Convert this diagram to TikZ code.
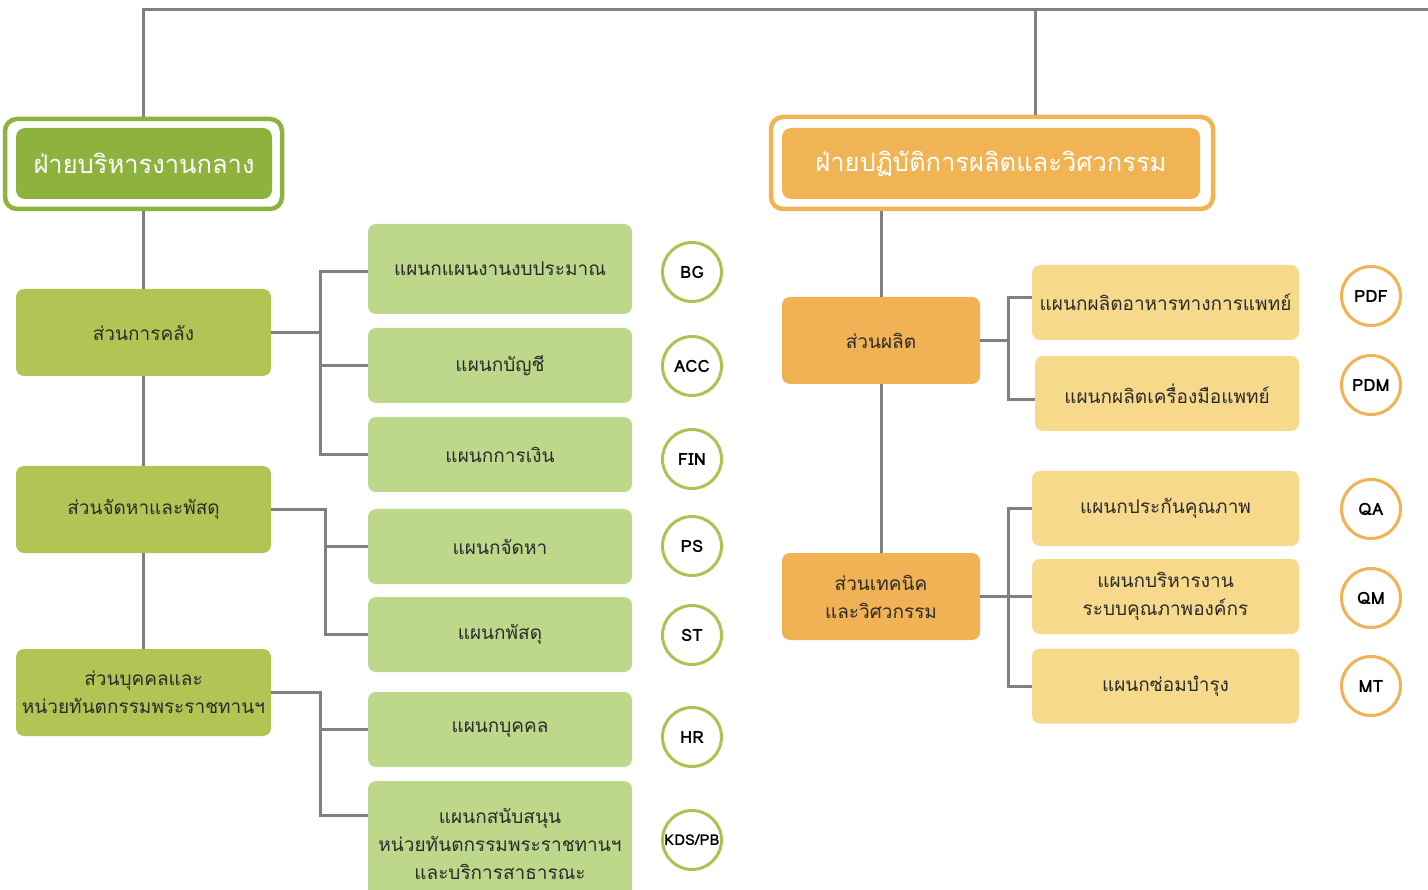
\documentclass[tikz,border=0pt]{standalone}
\usepackage{fontspec}
\newfontfamily\thaifont[Script=Thai]{Loma}
\definecolor{headG}{HTML}{8DB23E}
\definecolor{sectG}{HTML}{B1C554}
\definecolor{deptG}{HTML}{BDD78B}
\definecolor{ringG}{HTML}{A9C451}
\definecolor{headO}{HTML}{F0B455}
\definecolor{sectO}{HTML}{F0B254}
\definecolor{deptO}{HTML}{F7D98C}
\definecolor{lineC}{HTML}{808080}
\definecolor{txtC}{HTML}{2B2B2B}
\tikzset{
  link/.style={draw=lineC, line width=3pt},
  headframe/.style={draw=#1, line width=4.5pt, fill=white, rounded corners=12pt},
  headbox/.style={fill=#1, rounded corners=9pt, text=white,
    font=\thaifont\fontsize{25.5}{30}\selectfont},
  sectbox/.style={fill=#1, rounded corners=8pt, text=txtC, align=center,
    minimum height=87pt, font=\thaifont\fontsize{19}{28}\selectfont},
  deptbox/.style={fill=#1, rounded corners=8pt, text=txtC, align=center,
    minimum width=264pt, minimum height=75pt, inner sep=2pt,
    font=\thaifont\fontsize{19}{28}\selectfont},
  tag/.style={circle, draw=#1, line width=3pt, fill=white, minimum size=59pt,
    inner sep=0pt, text=black, font=\thaifont\bfseries\fontsize{17}{20}\selectfont}
}
\begin{document}
\begin{tikzpicture}[x=1pt,y=-1pt]
\useasboundingbox (0,0) rectangle (1428,890);
% top bar
\coordinate (topO) at (1035,10);
\coordinate (topE) at (1430,10);
% heads
\node[headframe=headG, minimum width=277pt, minimum height=90pt] (hGf) at (143.5,164) {};
\node[headbox=headG, minimum width=256pt, minimum height=71pt] (hG) at (144,163.5) {ฝ่ายบริหารงานกลาง};
\node[headframe=headO, minimum width=442pt, minimum height=92pt] (hOf) at (992,163) {};
\node[headbox=headO, minimum width=418pt, minimum height=71pt] (hO) at (991,163.5) {ฝ่ายปฏิบัติการผลิตและวิศวกรรม};
\draw[link] (hGf.north) |- (topE);
\draw[link] (topO) -- (topO |- hOf.north);
% left side
\node[sectbox=sectG, minimum width=255pt] (kl) at (143.5,332.5) {ส่วนการคลัง};
\node[sectbox=sectG, minimum width=255pt] (jh) at (143.5,509.5) {ส่วนจัดหาและพัสดุ};
\node[sectbox=sectG, minimum width=255pt] (bk) at (143.5,692.5) {ส่วนบุคคลและ\\หน่วยทันตกรรมพระราชทานฯ};
\node[deptbox=deptG, minimum height=90pt] (bg) at (500,269) {แผนกแผนงานงบประมาณ};
\node[deptbox=deptG] (acc) at (500,365.5) {แผนกบัญชี};
\node[deptbox=deptG] (fin) at (500,454.5) {แผนกการเงิน};
\node[deptbox=deptG] (ps) at (500,546.5) {แผนกจัดหา};
\node[deptbox=deptG] (st) at (500,634.5) {แผนกพัสดุ};
\node[deptbox=deptG] (hr) at (500,729.5) {แผนกบุคคล};
\node[deptbox=deptG, minimum height=125pt] (kds) at (500,843.5) {แผนกสนับสนุน\\หน่วยทันตกรรมพระราชทานฯ\\และบริการสาธารณะ};
\node[tag=ringG] (cBG) at (692,272) {BG};
\node[tag=ringG] (cACC) at (692,366) {ACC};
\node[tag=ringG] (cFIN) at (692,459) {FIN};
\node[tag=ringG] (cPS) at (692,546) {PS};
\node[tag=ringG] (cST) at (692,635) {ST};
\node[tag=ringG] (cHR) at (692,737) {HR};
\node[tag=ringG, font=\thaifont\bfseries\fontsize{15}{18}\selectfont] (cKDS) at (692,840) {KDS/PB};
\draw[link] (hGf.south) -- (kl.north);
\draw[link] (kl.south) -- (jh.north);
\draw[link] (jh.south) -- (bk.north);
\coordinate (busK) at (320,0);
\coordinate (busJ) at (325,0);
\coordinate (busB) at (320,0);
\draw[link] ([yshift=-3pt]bg.west) -- ([yshift=-3pt]bg.west -| busK) -- (fin.west -| busK) -- (fin.west);
\draw[link] (kl.east) -- (kl.east -| busK);
\draw[link] (acc.west) -- (acc.west -| busK);
\draw[link] (jh.east) -- (jh.east -| busJ) -- (st.west -| busJ) -- (st.west);
\draw[link] (ps.west) -- (ps.west -| busJ);
\draw[link] (bk.east) -- (bk.east -| busB) -- ([yshift=28pt]kds.west -| busB) -- ([yshift=28pt]kds.west);
\draw[link] (hr.west) -- (hr.west -| busB);
% right side
\node[sectbox=sectO, minimum width=198pt] (pd) at (881,340.5) {ส่วนผลิต};
\node[sectbox=sectO, minimum width=198pt] (tc) at (881,596.5) {ส่วนเทคนิค\\และวิศวกรรม};
\node[deptbox=deptO, minimum width=267pt] (pdf) at (1165.5,302.5) {แผนกผลิตอาหารทางการแพทย์};
\node[deptbox=deptO] (pdm) at (1167,393.5) {แผนกผลิตเครื่องมือแพทย์};
\node[deptbox=deptO, minimum width=267pt] (qa) at (1165.5,508.5) {แผนกประกันคุณภาพ};
\node[deptbox=deptO, minimum width=267pt] (qm) at (1165.5,596.5) {แผนกบริหารงาน\\ระบบคุณภาพองค์กร};
\node[deptbox=deptO, minimum width=267pt] (mt) at (1165.5,686) {แผนกซ่อมบำรุง};
\node[tag=sectO] (cPDF) at (1371,296) {PDF};
\node[tag=sectO] (cPDM) at (1371,385) {PDM};
\node[tag=sectO] (cQA) at (1371,509) {QA};
\node[tag=sectO] (cQM) at (1371,598) {QM};
\node[tag=sectO] (cMT) at (1371,686) {MT};
\draw[link] (pd.north) -- (pd.north |- hOf.south);
\draw[link] (pd.south) -- (tc.north);
\coordinate (busP) at (1008,0);
\draw[link] ([yshift=5pt]pdf.west) -- ([yshift=5pt]pdf.west -| busP) -- ([yshift=-6pt]pdm.west -| busP) -- ([yshift=-6pt]pdm.west);
\draw[link] (pd.east) -- (pd.east -| busP);
\draw[link] (qa.west) -- (qa.west -| busP) -- (mt.west -| busP) -- (mt.west);
\draw[link] (tc.east) -- (tc.east -| busP);
\draw[link] (qm.west) -- (qm.west -| busP);
\end{tikzpicture}
\end{document}
